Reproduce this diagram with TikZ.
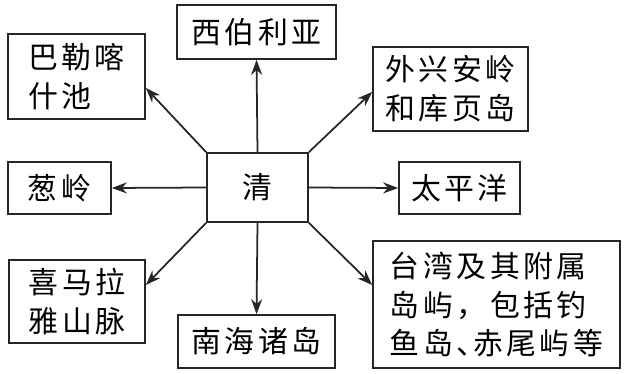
\documentclass[tikz,border=0pt]{standalone}
\usepackage{fontspec}
\newfontfamily\cjk[LetterSpace=12]{Noto Sans CJK SC}
\usepackage{tikz}
\usetikzlibrary{positioning,arrows.meta}

\begin{document}
\begin{tikzpicture}[x=0.02cm, y=-0.02cm,
    region/.style={draw=black!85, line width=1pt, fill=white, inner sep=0pt,
                   align=left, font=\cjk\fontsize{17pt}{22pt}\selectfont},
    link/.style  ={draw=black!85, line width=1pt,
                   -{Stealth[length=3mm, width=2.2mm]}}
  ]
    \useasboundingbox (0,0) rectangle (625,374);
    % --- centre ---
    \node[region, minimum width=2.02cm, minimum height=1.38cm] (qing) at (257.5,187.5) {清};
    % --- surrounding regions ---
    \node[region, minimum width=3.18cm, minimum height=1.08cm] (xbly) at (256.5,32) {西伯利亚};
    \node[region, minimum width=2.74cm, minimum height=1.70cm] (bleks) at (76.5,76.5) {巴勒喀\\什池};
    \node[region, minimum width=2.06cm, minimum height=1.04cm] (cl) at (59.5,188) {葱岭};
    \node[region, minimum width=2.72cm, minimum height=1.66cm] (xmly) at (77,301.5) {喜马拉\\雅山脉};
    \node[region, minimum width=3.14cm, minimum height=1.06cm] (nhzd) at (256.5,341.5) {南海诸岛};
    \node[region, minimum width=3.10cm, minimum height=1.68cm] (wxal) at (450.5,89) {外兴安岭\\和库页岛};
    \node[region, minimum width=2.42cm, minimum height=1.04cm] (tpy) at (459.5,188) {太平洋};
    \node[region, minimum width=4.94cm, minimum height=2.54cm] (tw) at (496.5,304.5)
      {台湾及其附属\\岛屿，包括钓\\鱼岛、\kern-0.45em赤尾屿等};
    % --- arrows out of the centre ---
    \draw[link] (qing.north) -- (xbly.south);
    \draw[link] (qing.north west) -- ([yshift=-0.23cm]bleks.east);
    \draw[link] (qing.west) -- (cl.east);
    \draw[link] (qing.south west) -- ([yshift=0.33cm]xmly.east);
    \draw[link] (qing.south) -- (nhzd.north);
    \draw[link] (qing.north east) -- ([yshift=-0.06cm]wxal.west);
    \draw[link] (qing.east) -- (tpy.west);
    \draw[link] (qing.south east) -- ([yshift=0.39cm]tw.west);
\end{tikzpicture}
\end{document}
